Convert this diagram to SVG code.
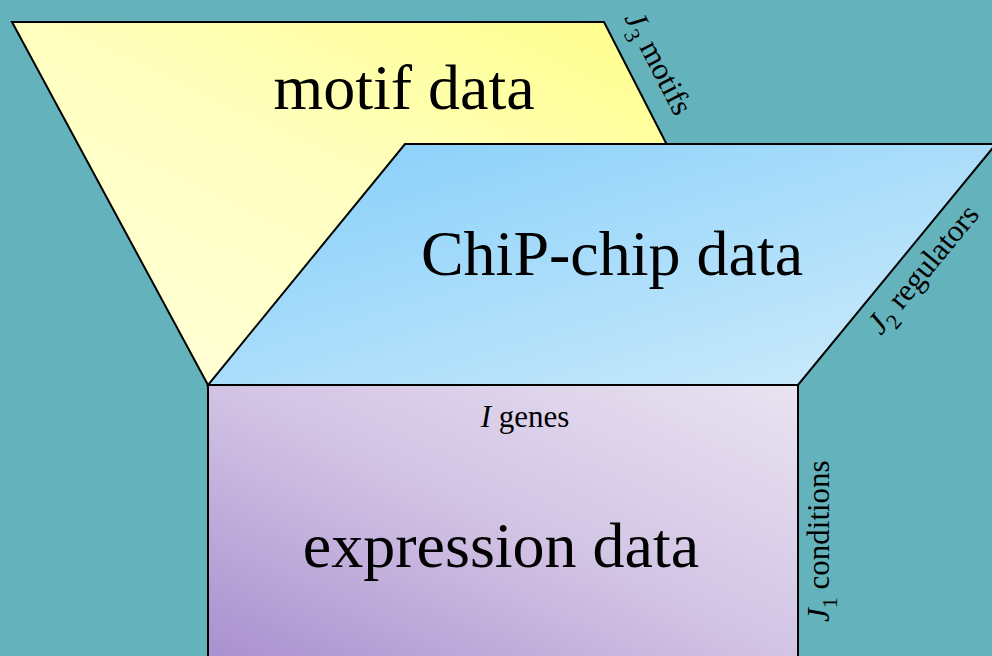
<svg xmlns="http://www.w3.org/2000/svg" width="992" height="656" viewBox="0 0 992 656">
  <defs>
    <linearGradient id="gYellow" x1="0" y1="1" x2="1" y2="0">
      <stop offset="0" stop-color="#ffffdc"/>
      <stop offset="0.5" stop-color="#ffffc0"/>
      <stop offset="1" stop-color="#ffff80"/>
    </linearGradient>
    <linearGradient id="gBlue" x1="0" y1="0" x2="1" y2="1">
      <stop offset="0" stop-color="#84cefa"/>
      <stop offset="1" stop-color="#d0ecfb"/>
    </linearGradient>
    <linearGradient id="gPurple" x1="0" y1="1" x2="1" y2="0">
      <stop offset="0" stop-color="#a88fcf"/>
      <stop offset="0.5" stop-color="#d2c3e4"/>
      <stop offset="1" stop-color="#e9e3f1"/>
    </linearGradient>
    <style>
      .face { stroke: #000; stroke-width: 2; stroke-linejoin: miter; }
      .big { font-size: 64px; fill: #000; }
      .dim { font-size: 31px; fill: #000; }
      .sub { font-size: 22px; }
    </style>
  </defs>

  <rect width="992" height="656" fill="#64b2bb"/>

  <g id="motif">
    <polygon class="face" fill="url(#gYellow)" points="12,22 604,22 790,385 208,385"/>
    <text class="big" font-family="'Liberation Serif', 'Times New Roman', serif" x="404" y="109" text-anchor="middle">motif data</text>
  </g>

  <g id="chip">
    <polygon class="face" fill="url(#gBlue)" points="405,144 996,144 798,385 208,385"/>
    <text class="big" font-family="'Liberation Serif', 'Times New Roman', serif" x="612" y="275" text-anchor="middle">ChiP-chip data</text>
  </g>

  <g id="expression">
    <rect class="face" fill="url(#gPurple)" x="208" y="385" width="590" height="280"/>
    <text class="big" font-family="'Liberation Serif', 'Times New Roman', serif" x="501" y="567" text-anchor="middle">expression data</text>
    <text class="dim" font-family="'Liberation Serif', 'Times New Roman', serif" x="525" y="427" text-anchor="middle"><tspan font-style="italic">I</tspan> genes</text>
  </g>

  <g id="labels" font-family="'Liberation Serif', 'Times New Roman', serif">
    <text class="dim" transform="translate(624,18) rotate(62.7)"><tspan font-style="italic">J</tspan><tspan class="sub" dy="8">3</tspan><tspan dy="-8"> motifs</tspan></text>
    <text class="dim" transform="translate(881,336) rotate(-50.6)"><tspan font-style="italic">J</tspan><tspan class="sub" dy="8">2</tspan><tspan dy="-8"> regulators</tspan></text>
    <text class="dim" transform="translate(829,622) rotate(-90)"><tspan font-style="italic">J</tspan><tspan class="sub" dy="8">1</tspan><tspan dy="-8"> conditions</tspan></text>
  </g>
</svg>
